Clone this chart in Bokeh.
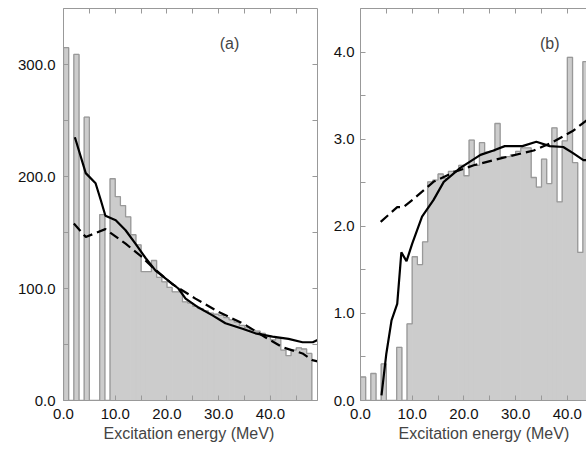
import numpy as np
from bokeh.plotting import figure
from bokeh.layouts import row
from bokeh.models import (FixedTicker, NumeralTickFormatter, LinearAxis, Label,
                          Range1d, Title)
from bokeh.embed import file_html
from bokeh.resources import INLINE

# ---------------- data ----------------
BIN_W = 1.0  # MeV

# panel (a): histogram counts per 1 MeV bin starting at 0 MeV
hist_a = [315, 0, 309, 0, 253, 0, 0, 166, 0, 198, 182, 174, 164, 148, 139,
          115, 115, 125, 110, 106, 101, 97, 97, 88, 87, 84, 82, 80, 78, 77,
          76, 74, 72, 70, 67, 65, 63, 62, 60, 58, 54, 56, 45, 40, 45, 47,
          46, 42]
solid_a_x = [2.2, 4.3, 6.2, 7.2, 8.1, 10.1, 12.0, 13.9, 15.9, 17.8, 19.7,
             22.2, 23.6, 26.1, 28.8, 31.3, 34.6, 37.1, 40.4, 43.5, 46.2,
             48.2, 49.1]
solid_a_y = [235, 203, 194, 179, 165, 161, 152, 140, 127, 116, 109, 100, 91,
             83, 76, 69, 64, 60, 57, 55, 52, 52, 54]
dash_a_x = [2.0, 4.3, 8.1, 12.0, 15.2, 17.2, 21.0, 25.5, 30.0, 34.6, 39.0,
            42.3, 46.2, 48.1, 49.1]
dash_a_y = [158, 146, 153, 140, 128, 119, 104, 91, 79, 69, 56.5, 47.6, 42,
            36, 35]

# panel (b)
hist_b = [0.27, 0, 0.31, 0, 0.42, 0, 0, 0.61, 0, 0.88, 1.65, 1.56, 1.82,
          2.51, 2.53, 2.60, 2.55, 2.63, 2.64, 2.70, 2.58, 2.99, 2.70, 2.96,
          2.85, 2.86, 3.18, 2.80, 2.80, 2.82, 2.86, 2.90, 2.90, 2.56, 2.45,
          2.77, 2.49, 3.13, 2.28, 2.98, 3.94, 2.73, 1.70, 3.89]
solid_b_x = [4.06, 5.0, 6.0, 7.1, 7.9, 8.9, 10.0, 11.9, 14.1, 16.1, 19.3,
             23.2, 25.7, 27.9, 31.3, 34.0, 36.6, 39.2, 41.1, 43.1, 43.8]
solid_b_y = [0.06, 0.54, 0.92, 1.11, 1.70, 1.60, 1.80, 2.11, 2.30, 2.51,
             2.67, 2.82, 2.87, 2.92, 2.92, 2.97, 2.92, 2.91, 2.84, 2.76, 2.76]
dash_b_x = [3.9, 7.1, 8.3, 10.2, 14.1, 18.0, 21.9, 27.1, 33.5, 37.3, 41.2,
            43.8]
dash_b_y = [2.05, 2.22, 2.22, 2.31, 2.51, 2.62, 2.70, 2.78, 2.87, 2.97, 3.10,
            3.22]

x_ticks = [0, 10, 20, 30, 40]
x_minor = [5, 15, 25, 35, 45]
ya_ticks = [0, 100, 200, 300]
ya_minor = [50, 150, 250]
yb_ticks = [0, 1, 2, 3, 4]
yb_minor = [0.5, 1.5, 2.5, 3.5]

XLABEL = "Excitation energy (MeV)"
FONT = "Liberation Sans"
AX_COL = "#999999"
FILL = "#cccccc"


def make_axis(ticks, minor, show_labels, standoff):
    ax = LinearAxis(
        ticker=FixedTicker(ticks=ticks, minor_ticks=minor),
        formatter=NumeralTickFormatter(format="0.0"),
        axis_line_color=AX_COL, axis_line_width=1,
        major_tick_line_color=AX_COL, minor_tick_line_color=AX_COL,
        major_tick_in=5, major_tick_out=0, minor_tick_in=5, minor_tick_out=0,
        major_label_text_font=FONT,
        major_label_text_font_size="15px",
        major_label_text_color="#111111",
        major_label_standoff=standoff,
    )
    if not show_labels:
        ax.major_label_overrides = {t: "" for t in ticks}
        ax.major_label_standoff = 0
    return ax


def draw_hist(p, hist):
    h = np.asarray(hist, dtype=float)
    edges = np.arange(len(h) + 1) * BIN_W
    p.quad(left=edges[:-1], right=edges[1:], bottom=0, top=h,
           fill_color=FILL, line_color=FILL, line_width=1)
    xs = np.repeat(edges, 2)
    ys = np.concatenate([[0.0], np.repeat(h, 2), [0.0]])
    p.line(xs, ys, line_color=AX_COL, line_width=1.3)


H = 450

# ---------- panel (a) ----------
pa = figure(width=327, height=H, x_range=Range1d(0, 49.1),
            y_range=Range1d(0, 350), output_backend="svg",
            toolbar_location=None, x_axis_type=None, y_axis_type=None,
            min_border_left=63, min_border_right=10, min_border_top=8,
            min_border_bottom=50, outline_line_color=None)
pa.add_layout(make_axis(x_ticks, x_minor, True, 8), "below")
pa.add_layout(make_axis(x_ticks, x_minor, False, 0), "above")
pa.add_layout(make_axis(ya_ticks, ya_minor, True, 8), "left")
pa.add_layout(make_axis(ya_ticks, ya_minor, False, 0), "right")
draw_hist(pa, hist_a)
pa.line(solid_a_x, solid_a_y, line_color="black", line_width=2.2)
pa.line(dash_a_x, dash_a_y, line_color="black", line_width=2.2,
        line_dash="10 5")
pa.add_layout(Label(x=32.1, y=319, text="(a)", text_align="center",
                    text_baseline="middle", text_font=FONT,
                    text_font_size="16px"))
pa.add_layout(Title(text=XLABEL, align="left", offset=40, standoff=3,
                    text_font=FONT, text_font_size="16px",
                    text_font_style="normal"), "below")

# ---------- panel (b) ----------
pb = figure(width=259, height=H, x_range=Range1d(0, 43.7),
            y_range=Range1d(0, 4.5), output_backend="svg",
            toolbar_location=None, x_axis_type=None, y_axis_type=None,
            min_border_left=33, min_border_right=0, min_border_top=8,
            min_border_bottom=50, outline_line_color=None)
pb.add_layout(make_axis(x_ticks, x_minor, True, 8), "below")
pb.add_layout(make_axis(x_ticks, x_minor, False, 0), "above")
pb.add_layout(make_axis(yb_ticks, yb_minor, True, 6), "left")
draw_hist(pb, hist_b)
pb.line(solid_b_x, solid_b_y, line_color="black", line_width=2.2)
pb.line(dash_b_x, dash_b_y, line_color="black", line_width=2.2,
        line_dash="10 5")
pb.add_layout(Label(x=36.6, y=4.10, text="(b)", text_align="center",
                    text_baseline="middle", text_font=FONT,
                    text_font_size="16px"))
pb.add_layout(Title(text=XLABEL, align="left", offset=38, standoff=3,
                    text_font=FONT, text_font_size="16px",
                    text_font_style="normal"), "below")

layout = row(pa, pb)
open("out.html", "w").write(file_html(layout, INLINE))
